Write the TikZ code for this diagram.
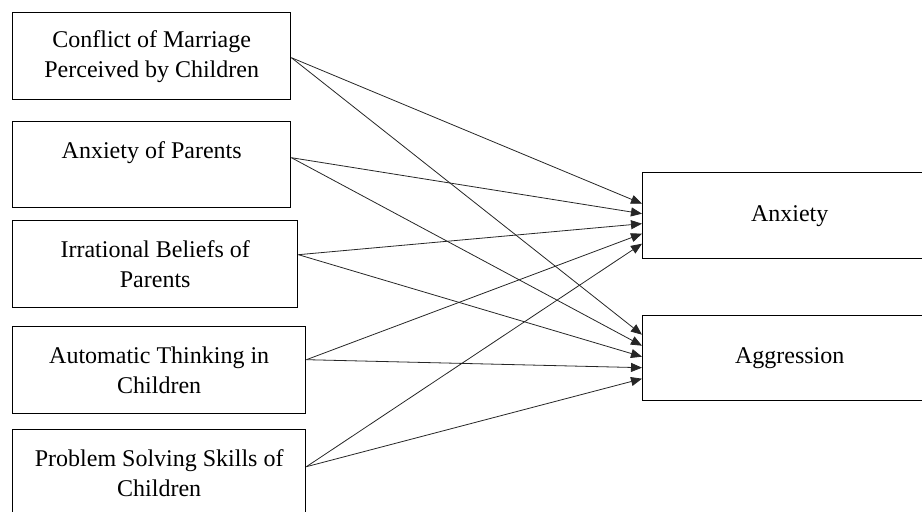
\documentclass[tikz,border=0pt]{standalone}
\usepackage{fontspec}
\setmainfont{Liberation Serif}
\usetikzlibrary{arrows.meta}

\begin{document}
\begin{tikzpicture}[x=0.5pt,y=-0.5pt,
  box/.style={draw,line width=0.7pt,anchor=north west,align=center,
    inner sep=0pt,font=\fontsize{12}{15}\selectfont},
  link/.style={draw=black!85,line width=0.4pt,
    -{Triangle[length=5.5pt,width=4.5pt]}}]
\useasboundingbox (0,0) rectangle (922,512);
% causes
\node[box,minimum width=139pt,minimum height=43.5pt] (cm) at (12,12)
  {Conflict of Marriage\\Perceived by Children};
\node[box,minimum width=139pt,minimum height=43pt] (ap) at (12,121)
  {Anxiety of Parents\\ \mbox{}};
\node[box,minimum width=142.5pt,minimum height=43.5pt] (ib) at (12,220)
  {Irrational Beliefs of\\Parents};
\node[box,minimum width=146.5pt,minimum height=43.5pt] (at) at (12,326)
  {Automatic Thinking in\\Children};
\node[box,minimum width=146.5pt,minimum height=43.5pt] (ps) at (12,429)
  {Problem Solving Skills of\\Children};
% outcomes
\node[box,minimum width=147pt,minimum height=43pt] (anx) at (642,172) {Anxiety};
\node[box,minimum width=147pt,minimum height=42.5pt] (agg) at (642,315) {Aggression};
\foreach \s/\sy/\ay/\gy in {cm/-0.75/6/11.75, ap/3.5/1/6.25, ib/4.75/-4/0.75,
    at/5.25/-9/-4.75, ps/3.25/-14/-10.25} {
  \draw[link] ([yshift=\sy pt]\s.east) -- ([yshift=\ay pt]anx.west);
  \draw[link] ([yshift=\sy pt]\s.east) -- ([yshift=\gy pt]agg.west);
}
\end{tikzpicture}
\end{document}
